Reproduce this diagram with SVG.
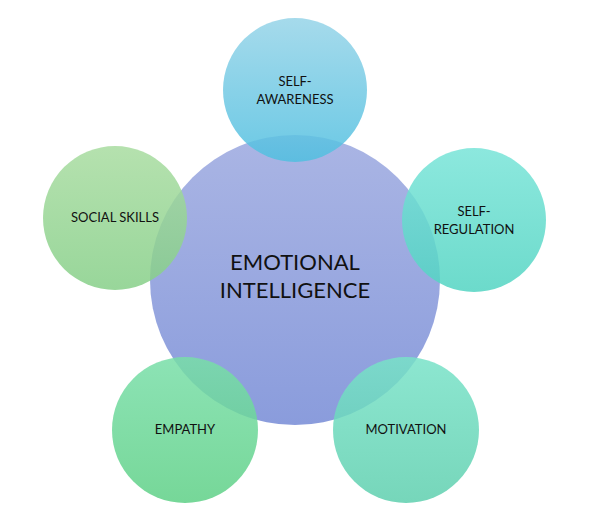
<svg xmlns="http://www.w3.org/2000/svg" width="600" height="530" viewBox="0 0 600 530">
<defs>
<style>
text{font-family:Lato,"Open Sans","DejaVu Sans",sans-serif;fill:#111;text-anchor:middle}
.s{font-size:13px}
.c{font-size:22px}
.sat{opacity:0.85}
</style>
<linearGradient id="gc" x1="0" y1="0" x2="0" y2="1"><stop offset="0" stop-color="#aab5e4"/><stop offset="1" stop-color="#8a9cdc"/></linearGradient>
<linearGradient id="g1" x1="0" y1="0" x2="0" y2="1"><stop offset="0" stop-color="#96d4e8"/><stop offset="1" stop-color="#50bfe0"/></linearGradient>
<linearGradient id="g2" x1="0" y1="0" x2="0" y2="1"><stop offset="0" stop-color="#78e4d8"/><stop offset="1" stop-color="#52d4c2"/></linearGradient>
<linearGradient id="g3" x1="0" y1="0" x2="0" y2="1"><stop offset="0" stop-color="#78e2c8"/><stop offset="1" stop-color="#5ecfae"/></linearGradient>
<linearGradient id="g4" x1="0" y1="0" x2="0" y2="1"><stop offset="0" stop-color="#78dea8"/><stop offset="1" stop-color="#5ed086"/></linearGradient>
<linearGradient id="g5" x1="0" y1="0" x2="0" y2="1"><stop offset="0" stop-color="#a8dca0"/><stop offset="1" stop-color="#86cf88"/></linearGradient>
</defs>
<g id="center"><circle cx="295" cy="280" r="145" fill="url(#gc)"/>
<text class="c" x="295" y="270">EMOTIONAL</text><text class="c" x="295" y="298">INTELLIGENCE</text></g>
<g id="self-awareness"><circle class="sat" cx="295" cy="90" r="72" fill="url(#g1)"/>
<text class="s" x="295" y="86">SELF-</text><text class="s" x="295" y="104">AWARENESS</text></g>
<g id="self-regulation"><circle class="sat" cx="474" cy="220" r="72" fill="url(#g2)"/>
<text class="s" x="474" y="216">SELF-</text><text class="s" x="474" y="234">REGULATION</text></g>
<g id="motivation"><circle class="sat" cx="406" cy="430" r="73" fill="url(#g3)"/>
<text class="s" x="406" y="434">MOTIVATION</text></g>
<g id="empathy"><circle class="sat" cx="185" cy="430" r="73" fill="url(#g4)"/>
<text class="s" x="185" y="434">EMPATHY</text></g>
<g id="social-skills"><circle class="sat" cx="115" cy="218" r="72" fill="url(#g5)"/>
<text class="s" x="115" y="222">SOCIAL SKILLS</text></g>
<g id="connectors"/>
</svg>
